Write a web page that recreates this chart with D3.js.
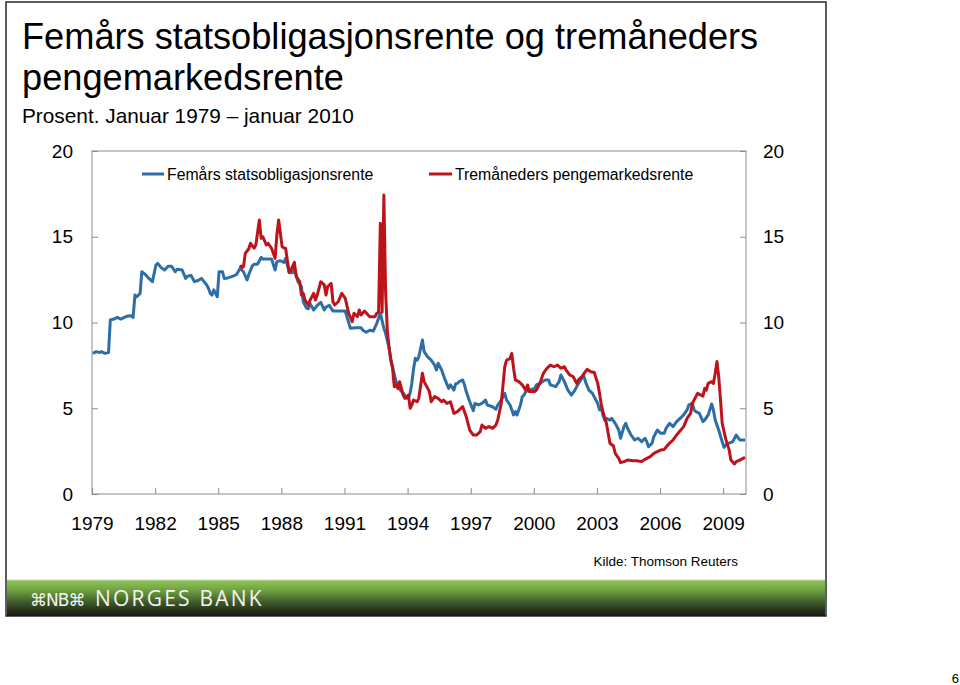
<!DOCTYPE html>
<html><head><meta charset="utf-8">
<script src="https://cdn.jsdelivr.net/npm/d3@7"></script>
<style>
html,body{margin:0;padding:0;background:#fff;}
svg{display:block;font-family:"Liberation Sans",Arial,Helvetica,sans-serif;}
</style></head>
<body>
<svg id="chart" width="960" height="685"></svg>
<script>
// ---------- DATA ----------
const titleLines = ["Femårs statsobligasjonsrente og tremåneders", "pengemarkedsrente"];
const subtitle = "Prosent. Januar 1979 \u2013 januar 2010";
const seriesNames = ["Femårs statsobligasjonsrente", "Tremåneders pengemarkedsrente"];
const yTicks = [0, 5, 10, 15, 20];
const xTickYears = [1979, 1982, 1985, 1988, 1991, 1994, 1997, 2000, 2003, 2006, 2009];
const source = "Kilde: Thomson Reuters";

const bond5y = [
["1979-01",8.2],["1979-03",8.3],["1979-05",8.25],["1979-06",8.3],["1979-08",8.2],["1979-10",8.25],
["1979-11",10.15],["1980-01",10.2],["1980-03",10.3],["1980-05",10.2],["1980-07",10.3],["1980-09",10.38],
["1980-11",10.4],["1980-12",10.3],["1981-01",11.6],["1981-02",11.5],["1981-04",11.7],["1981-05",12.96],
["1981-07",12.8],["1981-09",12.57],["1981-11",12.38],["1982-01",13.35],["1982-02",13.45],["1982-04",13.2],
["1982-06",13.06],["1982-08",13.28],["1982-10",13.28],["1982-12",12.96],["1983-01",13.1],["1983-04",13.06],
["1983-06",12.57],["1983-07",12.7],["1983-09",12.75],["1983-11",12.38],["1984-01",12.45],["1984-03",12.57],
["1984-06",12.19],["1984-07",12.0],["1984-08",11.7],["1984-09",11.6],["1984-10",11.9],["1984-12",11.5],
["1985-01",12.96],["1985-03",12.96],["1985-04",12.57],["1985-06",12.6],["1985-09",12.7],["1985-11",12.8],
["1986-01",13.16],["1986-03",12.96],["1986-05",12.48],["1986-06",12.8],["1986-08",13.3],["1986-09",13.39],
["1986-11",13.4],["1987-01",13.8],["1987-02",13.7],["1987-04",13.7],["1987-07",13.7],["1987-09",13.06],
["1987-10",13.55],["1987-12",13.6],["1988-02",13.5],["1988-03",13.74],["1988-05",12.96],["1988-07",12.9],
["1988-08",13.16],["1988-10",12.38],["1988-12",12.09],["1989-01",11.21],["1989-03",10.83],["1989-04",10.8],
["1989-05",11.1],["1989-07",10.73],["1989-09",11.0],["1989-11",11.18],["1990-01",10.73],["1990-02",10.9],
["1990-04",11.0],["1990-06",10.67],["1990-08",10.67],["1991-01",10.67],["1991-02",10.3],["1991-04",9.66],
["1991-07",9.7],["1991-10",9.7],["1991-11",9.55],["1992-01",9.43],["1992-03",9.55],["1992-05",9.5],
["1992-07",9.95],["1992-09",10.54],["1992-11",9.66],["1992-12",9.37],["1993-02",8.5],["1993-03",7.9],
["1993-04",7.42],["1993-06",6.55],["1993-08",6.1],["1993-10",5.9],["1993-12",5.58],["1994-01",5.6],
["1994-02",5.9],["1994-03",6.45],["1994-04",7.3],["1994-05",7.91],["1994-06",7.8],["1994-07",8.0],
["1994-09",8.98],["1994-10",8.3],["1994-12",8.0],["1995-02",7.81],["1995-04",7.52],["1995-05",7.23],
["1995-06",7.62],["1995-08",7.23],["1995-10",6.65],["1995-12",6.16],["1996-01",6.36],["1996-03",6.06],
["1996-04",6.43],["1996-05",6.45],["1996-06",6.55],["1996-08",6.65],["1996-09",6.36],["1996-10",5.97],
["1996-12",5.38],["1997-02",4.86],["1997-03",5.28],["1997-05",5.19],["1997-07",5.28],["1997-09",5.48],
["1997-10",5.19],["1998-01",5.09],["1998-03",4.94],["1998-04",5.19],["1998-06",5.48],["1998-08",5.87],
["1998-09",5.48],["1998-11",5.19],["1999-01",4.61],["1999-02",4.8],["1999-03",4.61],["1999-05",5.19],
["1999-06",5.68],["1999-07",5.77],["1999-08",5.97],["1999-10",6.06],["2000-01",6.16],["2000-02",6.36],
["2000-04",6.45],["2000-07",6.65],["2000-09",6.65],["2000-10",6.36],["2001-01",6.26],["2001-03",6.55],
["2001-04",6.94],["2001-06",6.55],["2001-08",6.06],["2001-10",5.77],["2001-12",6.06],["2002-02",6.45],
["2002-04",6.75],["2002-05",6.94],["2002-06",6.55],["2002-08",6.06],["2002-10",5.87],["2003-01",5.28],
["2003-02",4.9],["2003-03",5.09],["2003-04",4.61],["2003-05",4.31],["2003-06",4.41],["2003-08",4.31],
["2003-09",4.41],["2003-11",4.12],["2004-01",3.73],["2004-02",3.25],["2004-04",3.93],["2004-05",4.12],
["2004-06",3.83],["2004-08",3.44],["2004-10",3.15],["2004-12",3.25],["2005-02",3.05],["2005-04",3.25],
["2005-05",3.05],["2005-06",2.76],["2005-08",2.96],["2005-09",3.34],["2005-11",3.73],["2006-01",3.54],
["2006-03",3.54],["2006-04",3.83],["2006-06",4.12],["2006-08",3.93],["2006-10",4.22],["2006-12",4.41],
["2007-02",4.61],["2007-04",4.9],["2007-05",5.19],["2007-07",5.28],["2007-08",4.9],["2007-09",4.8],
["2007-11",4.7],["2008-01",4.22],["2008-02",4.31],["2008-04",4.61],["2008-06",5.25],["2008-07",4.9],
["2008-08",4.31],["2008-10",3.73],["2008-12",3.05],["2009-01",2.72],["2009-03",2.96],["2009-04",2.96],
["2009-06",3.05],["2009-08",3.44],["2009-10",3.15],["2009-12",3.15],["2010-01",3.15]
];

const money3m = [
["1986-01",13.35],["1986-02",13.2],["1986-03",13.26],["1986-04",14.03],["1986-06",14.3],["1986-07",14.62],
["1986-09",14.33],["1986-10",14.52],["1986-12",15.98],["1987-01",14.91],["1987-02",15.0],["1987-04",14.52],
["1987-05",14.62],["1987-07",14.33],["1987-09",13.74],["1987-10",15.1],["1987-11",15.98],["1988-01",14.42],
["1988-02",14.35],["1988-03",14.33],["1988-05",12.92],["1988-06",13.06],["1988-08",13.51],["1988-09",12.67],
["1988-11",12.38],["1988-12",11.6],["1989-01",11.7],["1989-02",11.31],["1989-04",11.02],["1989-05",11.31],
["1989-07",11.7],["1989-08",11.31],["1989-09",11.6],["1989-11",12.38],["1990-01",12.19],["1990-02",11.6],
["1990-03",12.09],["1990-05",12.28],["1990-06",11.21],["1990-07",11.02],["1990-09",11.21],["1990-11",11.7],
["1991-01",11.41],["1991-03",10.54],["1991-05",10.05],["1991-06",10.54],["1991-08",10.34],["1991-09",10.73],
["1991-10",10.44],["1991-12",10.67],["1992-02",10.44],["1992-03",10.34],["1992-06",10.34],["1992-07",10.54],
["1992-08",10.6],["1992-09",15.78],["1992-10",10.6],["1992-11",17.43],["1992-12",11.8],["1993-01",9.47],
["1993-02",8.5],["1993-03",7.81],["1993-04",7.33],["1993-05",6.26],["1993-06",6.36],["1993-07",6.16],
["1993-08",6.55],["1993-10",5.77],["1993-11",5.58],["1994-01",5.77],["1994-02",5.0],["1994-03",5.19],
["1994-04",5.48],["1994-06",5.38],["1994-07",5.58],["1994-09",7.04],["1994-10",6.55],["1995-01",5.97],
["1995-02",5.38],["1995-04",5.68],["1995-06",5.58],["1995-08",5.38],["1995-09",5.48],["1995-11",5.28],
["1996-01",5.38],["1996-03",4.7],["1996-05",4.8],["1996-07",5.0],["1996-08",5.09],["1996-10",4.51],
["1996-12",3.73],["1997-02",3.44],["1997-04",3.44],["1997-06",3.64],["1997-07",4.02],["1997-09",3.83],
["1997-11",3.93],["1998-01",3.83],["1998-03",4.02],["1998-04",4.31],["1998-06",5.28],["1998-08",7.42],
["1998-09",7.81],["1998-10",7.85],["1998-11",7.91],["1998-12",8.2],["1999-01",7.33],["1999-02",6.65],
["1999-04",6.55],["1999-06",6.36],["1999-08",6.06],["1999-09",6.36],["1999-10",5.97],["2000-01",5.97],
["2000-02",6.06],["2000-04",6.45],["2000-06",7.04],["2000-08",7.33],["2000-10",7.52],["2000-12",7.42],
["2001-02",7.52],["2001-04",7.33],["2001-06",7.42],["2001-07",7.23],["2001-09",6.94],["2001-11",6.84],
["2002-01",6.45],["2002-02",6.65],["2002-04",6.84],["2002-06",7.13],["2002-07",7.27],["2002-09",7.13],
["2002-11",7.08],["2003-01",6.45],["2003-02",5.87],["2003-03",5.28],["2003-04",4.8],["2003-06",4.12],
["2003-07",3.54],["2003-08",2.96],["2003-10",2.8],["2003-11",2.37],["2004-01",2.08],["2004-02",1.83],
["2004-04",1.89],["2004-06",1.98],["2004-09",1.94],["2004-11",1.94],["2005-02",1.89],["2005-04",2.02],
["2005-07",2.18],["2005-09",2.37],["2006-01",2.57],["2006-03",2.6],["2006-05",2.86],["2006-08",3.15],
["2006-10",3.44],["2007-02",3.93],["2007-04",4.41],["2007-06",4.7],["2007-07",5.28],["2007-09",5.68],
["2007-10",5.87],["2008-01",5.71],["2008-02",6.16],["2008-03",6.06],["2008-04",6.45],["2008-06",6.55],
["2008-07",6.45],["2008-08",7.04],["2008-09",7.72],["2008-10",6.84],["2008-11",5.5],["2008-12",4.12],
["2009-02",3.2],["2009-04",2.57],["2009-05",1.98],["2009-07",1.75],["2009-08",1.89],["2009-10",1.98],
["2010-01",2.14]
];

const colors = ["#2e6ea6", "#bd141b"];

// ---------- DRAW ----------
const svg = d3.select("#chart");
const FONT = '"Liberation Sans",Arial,Helvetica,sans-serif';

// slide frame
svg.append("rect").attr("x",6).attr("y",2).attr("width",820).attr("height",614)
  .attr("fill","none").attr("stroke","#2a2a2a").attr("stroke-width",1.5);

// footer gradient band
const defs = svg.append("defs");
const grad = defs.append("linearGradient").attr("id","band").attr("x1",0).attr("y1",0).attr("x2",0).attr("y2",1);
grad.append("stop").attr("offset","0%").attr("stop-color","#93c55a");
grad.append("stop").attr("offset","30%").attr("stop-color","#6e9f3f");
grad.append("stop").attr("offset","65%").attr("stop-color","#3b5428");
grad.append("stop").attr("offset","100%").attr("stop-color","#161616");
svg.append("rect").attr("x",7).attr("y",580).attr("width",818).attr("height",36).attr("fill","url(#band)");
svg.append("line").attr("x1",7).attr("x2",825).attr("y1",580).attr("y2",580).attr("stroke","#c4dcaa").attr("stroke-width",1);

svg.append("text").attr("x",30).attr("y",606).attr("fill","#f4f4f4")
  .attr("font-family","DejaVu Sans").attr("font-size",17)
  .attr("letter-spacing",-1).text("\u2318NB\u2318");
svg.append("text").attr("x",95).attr("y",606).attr("fill","#f4f4f4")
  .attr("font-family",'"Open Sans","DejaVu Sans",sans-serif').attr("font-size",21)
  .attr("letter-spacing",2.2).text("NORGES BANK");

// titles
svg.append("text").attr("x",22).attr("y",49).attr("font-size",36.2).attr("fill","#000").text(titleLines[0]);
svg.append("text").attr("x",22).attr("y",90).attr("font-size",36.2).attr("fill","#000").text(titleLines[1]);
svg.append("text").attr("x",22).attr("y",123).attr("font-size",20.8).attr("fill","#000").text(subtitle);

// scales
const parse = s => { const [y,m] = s.split("-").map(Number); return new Date(y, m-1, 15); };
const L = 92, R = 746, T = 151, B = 494;
const x = d3.scaleTime().domain([new Date(1979,0,1), new Date(2010,1,1)]).range([L, R]);
const y = d3.scaleLinear().domain([0, 20]).range([B, T]);

const axisColor = "#8c8c8c";
// plot frame
svg.append("rect").attr("x",L).attr("y",T).attr("width",R-L).attr("height",B-T)
  .attr("fill","none").attr("stroke",axisColor).attr("stroke-width",1);

function styleAxis(g){
  g.select(".domain").remove();
  g.selectAll(".tick line").attr("stroke",axisColor);
  g.selectAll(".tick text").attr("font-family",FONT).attr("font-size",19).attr("fill","#000");
}

svg.append("g").attr("transform",`translate(${L},0)`)
  .call(d3.axisLeft(y).tickValues(yTicks).tickSize(-6).tickPadding(19).tickFormat(d3.format("d")))
  .call(styleAxis);
svg.append("g").attr("transform",`translate(${R},0)`)
  .call(d3.axisRight(y).tickValues(yTicks).tickSize(-6).tickPadding(17).tickFormat(d3.format("d")))
  .call(styleAxis);
svg.append("g").attr("transform",`translate(0,${B})`)
  .call(d3.axisBottom(x).tickValues(xTickYears.map(yr => new Date(yr,0,1))).tickSize(-6).tickPadding(23)
    .tickFormat(d3.timeFormat("%Y")))
  .call(styleAxis);

// lines
const line = d3.line().x(d => x(parse(d[0]))).y(d => y(d[1]));
[bond5y, money3m].forEach((s,i) => {
  svg.append("path").datum(s).attr("d",line).attr("fill","none")
    .attr("stroke",colors[i]).attr("stroke-width",3).attr("stroke-linejoin","round");
});

// legend
const legend = [{x1:142,x2:164,tx:167},{x1:429,x2:452,tx:455}];
legend.forEach((l,i) => {
  svg.append("line").attr("x1",l.x1).attr("x2",l.x2).attr("y1",174).attr("y2",174)
    .attr("stroke",colors[i]).attr("stroke-width",3);
  svg.append("text").attr("x",l.tx).attr("y",180).attr("font-size",15.8).attr("fill","#000").text(seriesNames[i]);
});

// source and page number
svg.append("text").attr("x",738).attr("y",566).attr("text-anchor","end").attr("font-size",13.5).text(source);
svg.append("text").attr("x",959).attr("y",683).attr("text-anchor","end").attr("font-size",13).text("6");
svg.selectAll("text").filter(function(){return !this.getAttribute("font-family");}).attr("font-family",FONT);
</script>
</body></html>
